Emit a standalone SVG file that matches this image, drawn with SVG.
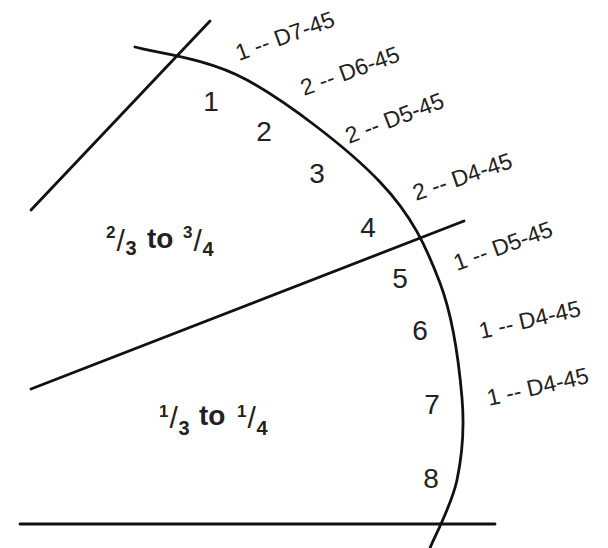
<svg xmlns="http://www.w3.org/2000/svg" width="608" height="548" viewBox="0 0 608 548">
<style>
.ln{fill:none;stroke:#111;stroke-width:2.8;stroke-linecap:round;stroke-linejoin:round}
.num{font-family:"Liberation Sans",Arial,sans-serif;font-size:28px;fill:#222;text-anchor:middle}
.lab{font-family:"Liberation Sans",Arial,sans-serif;font-size:23px;fill:#222}
.fr{font-family:"Liberation Sans",Arial,sans-serif;fill:#222;font-weight:bold}
.sup{font-size:17px}
.sub{font-size:20px}
.sl{font-size:30px;font-weight:normal}
.to{font-size:28px}
</style>
<rect width="608" height="548" fill="#fff"/>
<g id="lines">
<path class="ln" d="M135,47 C153.7,52.5 206.2,57.5 247,80 C287.8,102.5 347.8,148.2 380,182 C412.2,215.8 426.3,247 440,283 C453.7,319 459.2,365.2 462,398 C464.8,430.8 462.3,455 457,480 C451.7,505 434.5,536.7 430,548"/>
<line class="ln" x1="31" y1="210" x2="210" y2="21"/>
<line class="ln" x1="31" y1="389" x2="464" y2="221"/>
<line class="ln" x1="20" y1="524" x2="495" y2="524"/>
</g>
<g id="numbers">
<text class="num" x="211" y="111">1</text>
<text class="num" x="264" y="141">2</text>
<text class="num" x="317" y="183">3</text>
<text class="num" x="368" y="237">4</text>
<text class="num" x="400" y="288">5</text>
<text class="num" x="420" y="340">6</text>
<text class="num" x="432" y="414">7</text>
<text class="num" x="431" y="488">8</text>
</g>
<g id="labels">
<text class="lab" transform="translate(239,61) rotate(-20)">1 -- D7-45</text>
<text class="lab" transform="translate(304,96) rotate(-20)">2 -- D6-45</text>
<text class="lab" transform="translate(349,144) rotate(-21)">2 -- D5-45</text>
<text class="lab" transform="translate(416,201) rotate(-19)">2 -- D4-45</text>
<text class="lab" transform="translate(457,271) rotate(-20)">1 -- D5-45</text>
<text class="lab" transform="translate(481,339) rotate(-13)">1 -- D4-45</text>
<text class="lab" transform="translate(489,406) rotate(-13)">1 -- D4-45</text>
</g>
<g id="fraction-upper">
<text class="fr"><tspan class="sup" x="106" y="238">2</tspan><tspan class="sl" x="116.5" y="251">/</tspan><tspan class="sub" x="125.5" y="255">3</tspan><tspan class="to" x="147" y="248">to</tspan><tspan class="sup" x="183" y="238">3</tspan><tspan class="sl" x="193.5" y="251">/</tspan><tspan class="sub" x="202.5" y="256">4</tspan></text>
</g>
<g id="fraction-lower">
<text class="fr"><tspan class="sup" x="159" y="417">1</tspan><tspan class="sl" x="169.5" y="428">/</tspan><tspan class="sub" x="178.5" y="435">3</tspan><tspan class="to" x="199" y="425">to</tspan><tspan class="sup" x="237" y="417">1</tspan><tspan class="sl" x="247.5" y="428">/</tspan><tspan class="sub" x="256.5" y="435">4</tspan></text>
</g>
</svg>
